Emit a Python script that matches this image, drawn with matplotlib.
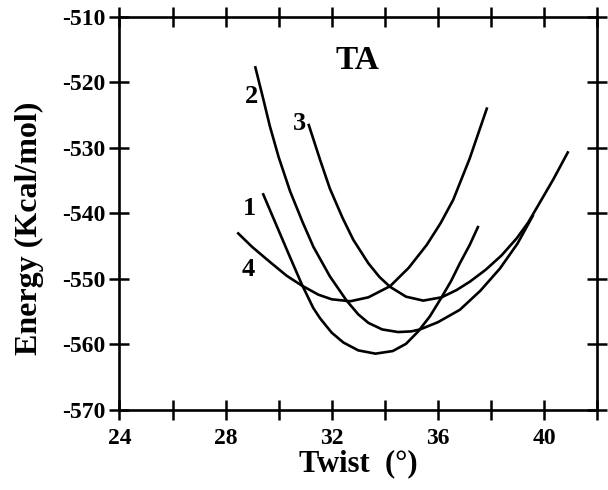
import numpy as np
import matplotlib
matplotlib.use("Agg")
import matplotlib.pyplot as plt

plt.rcParams['font.family'] = ['Liberation Serif', 'DejaVu Serif']
plt.rcParams['font.weight'] = 'bold'
plt.rcParams['axes.unicode_minus'] = False

# curve 1
x1 = [29.4, 30.0, 30.4, 30.87, 31.3, 31.56, 32.0, 32.44, 33.0, 33.65, 34.3, 34.8,
      35.26, 35.7, 36.14, 36.5, 36.83, 37.2, 37.53]
y1 = [-536.9, -542.6, -546.4, -550.8, -554.4, -556.0, -558.2, -559.7, -560.9, -561.4,
      -561.0, -559.9, -558.0, -555.7, -552.8, -550.3, -547.6, -544.8, -541.9]
# curve 2
x2 = [29.11, 29.4, 29.67, 30.0, 30.43, 30.9, 31.31, 31.93, 32.56, 33.0, 33.38, 33.9,
      34.5, 35.0, 35.33, 36.0, 36.83, 37.6, 38.34, 39.0, 39.6]
y2 = [-517.5, -522.2, -526.7, -531.4, -536.6, -541.3, -545.1, -549.6, -553.3, -555.4,
      -556.7, -557.7, -558.1, -558.0, -557.7, -556.6, -554.7, -551.8, -548.4, -544.6, -540.2]
# curve 3
x3 = [31.12, 31.56, 31.93, 32.4, 32.81, 33.38, 33.8, 34.2, 34.8, 35.45, 36.14, 36.7,
      37.21, 37.8, 38.4, 38.97, 39.4, 39.79, 40.35, 40.92]
y3 = [-526.3, -531.8, -536.2, -540.6, -544.0, -547.6, -549.7, -551.2, -552.7, -553.3,
      -552.8, -551.7, -550.4, -548.6, -546.4, -543.8, -541.4, -538.7, -534.8, -530.5]
# curve 4
x4 = [28.44, 29.0, 29.67, 30.3, 30.87, 31.5, 32.0, 32.7, 33.38, 34.2, 34.9, 35.58,
      36.1, 36.58, 37.2, 37.86]
y4 = [-542.9, -545.1, -547.4, -549.5, -551.0, -552.4, -553.1, -553.4, -552.8, -551.1,
      -548.3, -544.8, -541.5, -537.9, -531.6, -523.8]

curve_names = ['1', '2', '3', '4']
label_x = [28.89, 28.97, 30.8, 28.86]
label_y = [-539.3, -522.2, -526.3, -548.6]

xticks = [24, 26, 28, 30, 32, 34, 36, 38, 40, 42]
xtick_labels = ['24', '', '28', '', '32', '', '36', '', '40', '']
yticks = [-570, -560, -550, -540, -530, -520, -510]


def main():
    fig = plt.figure(figsize=(6.08, 4.90), dpi=100)
    ax = fig.add_axes([0.1965, 0.1633, 0.7855, 0.802])

    for xs, ys in [(x1, y1), (x2, y2), (x3, y3), (x4, y4)]:
        ax.plot(xs, ys, color='black', lw=1.9, solid_capstyle='butt')

    for name, lx, ly in zip(curve_names, label_x, label_y):
        ax.text(lx, ly, name, fontsize=19, fontweight='bold',
                ha='center', va='center')
    ax.text(32.96, -516.7, 'TA', fontsize=24, fontweight='bold',
            ha='center', va='center')

    ax.set_xlim(24, 42)
    ax.set_ylim(-570, -510)
    ax.set_xticks(xticks)
    ax.set_xticklabels(xtick_labels)
    ax.set_yticks(yticks)
    ax.set_yticklabels([str(v) for v in yticks])

    ax.tick_params(direction='inout', length=14, width=1.8,
                   top=True, right=True, labelsize=17)
    ax.tick_params(axis='x', pad=6)
    ax.tick_params(axis='y', pad=3)
    for s in ax.spines.values():
        s.set_linewidth(1.9)

    ax.set_xlabel('Twist  (°)', fontsize=22, fontweight='bold', labelpad=0)
    ax.set_ylabel('Energy (Kcal/mol)', fontsize=23, fontweight='bold')
    ax.yaxis.set_label_coords(-0.158, 0.463)

    fig.savefig('out.png', dpi=100)


if __name__ == "__main__":
    main()
